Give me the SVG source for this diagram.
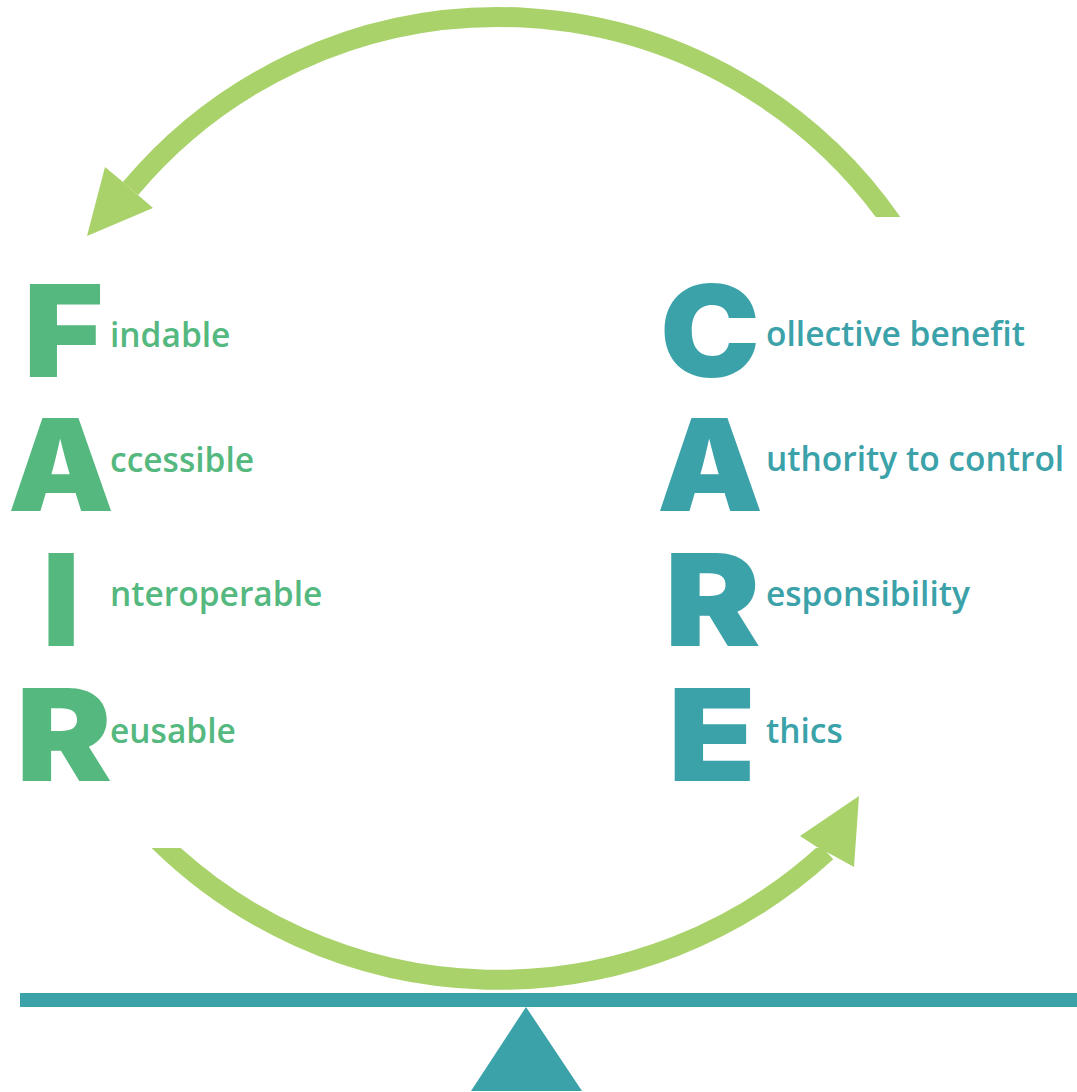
<svg xmlns="http://www.w3.org/2000/svg" width="1077" height="1092" viewBox="0 0 1077 1092">
  <style>
    .big { font-family: Inter, "Roboto", "Liberation Sans", sans-serif; font-weight: 900; font-size: 128px; text-anchor: middle; }
    .word { font-family: "Open Sans", "Noto Sans", sans-serif; font-weight: 600; font-size: 33.5px; }
    .fair { fill: #54b87f; }
    .care { fill: #3ba2a9; }
    .loop { fill: none; stroke: #a9d26a; stroke-width: 20; stroke-linecap: butt; }
    .head { fill: #a9d26a; }
    .beam { fill: #3ba2a9; }
  </style>
  <defs>
    <clipPath id="clipTop"><rect x="0" y="0" width="1077" height="217"/></clipPath>
    <clipPath id="clipBottom"><rect x="0" y="848" width="1077" height="244"/></clipPath>
  </defs>

  <!-- cycle arrows between the two acronyms -->
  <g id="connectors">
    <path class="loop" clip-path="url(#clipTop)" d="M 900.4 235 A 480 480 0 0 0 130.5 188.5"/>
    <polygon class="head" points="87,236 105,167 123,182 138,195 153,208"/>
    <path class="loop" clip-path="url(#clipBottom)" d="M 152.7 835 A 485 485 0 0 0 826.5 852"/>
    <polygon class="head" points="859,796 800,836 817,847 836,857 854,867"/>
  </g>

  <!-- FAIR column -->
  <g id="fair-f">
    <text class="big fair" x="63.5" y="377" textLength="80" lengthAdjust="spacingAndGlyphs">F</text>
    <text class="word fair" x="110" y="347">indable</text>
  </g>
  <g id="fair-a">
    <text class="big fair" x="61" y="511" textLength="106" lengthAdjust="spacingAndGlyphs">A</text>
    <text class="word fair" x="110" y="472">ccessible</text>
  </g>
  <g id="fair-i">
    <text class="big fair" x="61" y="646">I</text>
    <text class="word fair" x="110" y="606">nteroperable</text>
  </g>
  <g id="fair-r">
    <text class="big fair" x="64" y="781" textLength="96" lengthAdjust="spacingAndGlyphs">R</text>
    <text class="word fair" x="110" y="743">eusable</text>
  </g>

  <!-- CARE column -->
  <g id="care-c">
    <text class="big care" x="710" y="377" textLength="100" lengthAdjust="spacingAndGlyphs">C</text>
    <text class="word care" x="766" y="346">ollective benefit</text>
  </g>
  <g id="care-a">
    <text class="big care" x="710" y="511" textLength="106" lengthAdjust="spacingAndGlyphs">A</text>
    <text class="word care" x="766" y="471">uthority to control</text>
  </g>
  <g id="care-r">
    <text class="big care" x="712.5" y="646" textLength="96" lengthAdjust="spacingAndGlyphs">R</text>
    <text class="word care" x="766" y="606">esponsibility</text>
  </g>
  <g id="care-e">
    <text class="big care" x="712" y="781" textLength="88" lengthAdjust="spacingAndGlyphs">E</text>
    <text class="word care" x="766" y="743">thics</text>
  </g>

  <!-- balance: beam and fulcrum -->
  <g id="balance">
    <rect class="beam" x="20" y="993" width="1057" height="14"/>
    <polygon class="beam" points="526,1007 471,1091 582,1091"/>
  </g>
</svg>
